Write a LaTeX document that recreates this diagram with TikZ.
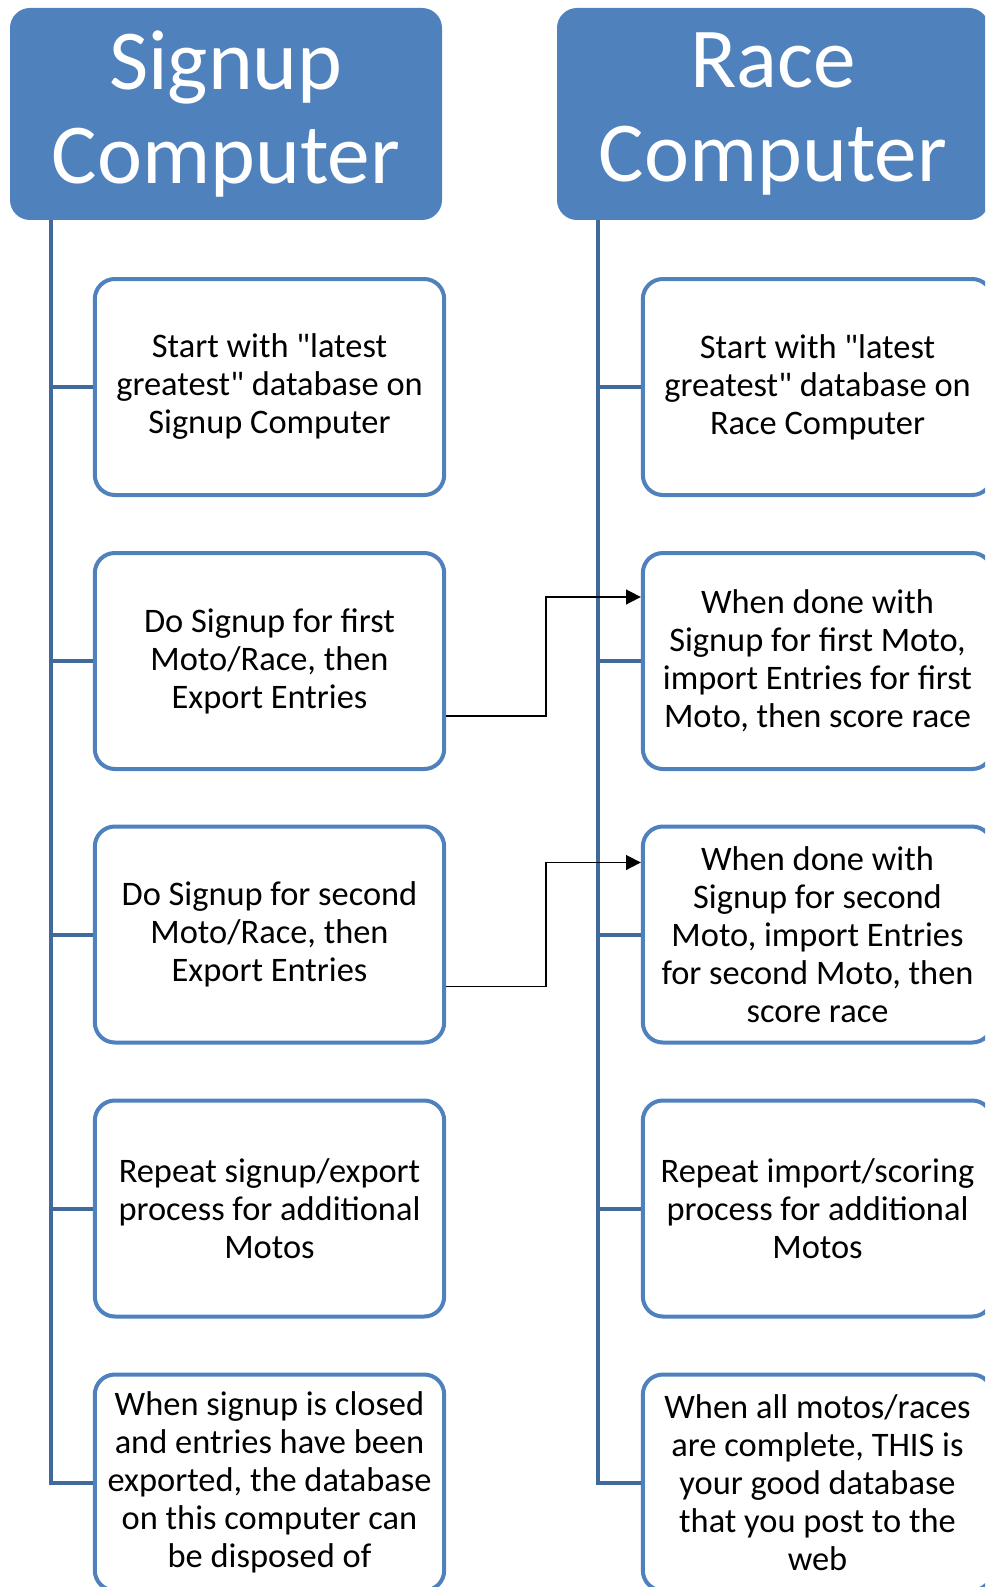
\documentclass[tikz,border=0pt]{standalone}
\usepackage{fontspec}
\setmainfont{Carlito}
\usetikzlibrary{arrows.meta}
\definecolor{hdrblue}{HTML}{4F81BD}
\definecolor{trunkblue}{HTML}{3F6A9B}
\newcommand{\dq}{\textquotedbl}

\begin{document}
\begin{tikzpicture}[x=0.75pt,y=-0.75pt,
  header/.style={rectangle,rounded corners=15pt,fill=hdrblue,text=white,
    minimum width=324pt,minimum height=159pt,align=center,
    font=\fontsize{64}{70}\selectfont},
  stepbox/.style={rectangle,rounded corners=15pt,draw=hdrblue,line width=3pt,
    fill=white,minimum width=262pt,minimum height=162pt,align=center,
    font=\fontsize{25.8}{28.5}\selectfont},
  trunk/.style={trunkblue,line width=3pt},
  flow/.style={black,line width=1.3pt,-{Triangle[length=11pt,width=11pt]}}]
\useasboundingbox (0,0) rectangle (985,1587);
\clip (0,0) rectangle (985,1587);
\fill[white] (0,0) rectangle (985,1587);
% headers
\node[header] (signup) at (226,114) {Signup\\Computer};
\node[header] (race) at (773,114) {Race\\Computer};
\coordinate (sigtop) at (51,220);
\coordinate (racetop) at (598,220);
% signup column
\node[stepbox] (s1) at (269.5,387) {Start with \dq latest\\greatest\dq{} database on\\Signup Computer};
\node[stepbox] (s2) at (269.5,661) {Do Signup for first\\Moto/Race, then\\Export Entries};
\node[stepbox] (s3) at (269.5,934.5) {Do Signup for second\\Moto/Race, then\\Export Entries};
\node[stepbox] (s4) at (269.5,1208.5) {Repeat signup/export\\process for additional\\Motos};
\node[stepbox] (s5) at (269.5,1482.5) {When signup is closed\\and entries have been\\exported, the database\\on this computer can\\be disposed of};
% race column
\node[stepbox] (r1) at (817.5,387) {Start with \dq latest\\greatest\dq{} database on\\Race Computer};
\node[stepbox] (r2) at (817.5,661) {When done with\\Signup for first Moto,\\import Entries for first\\Moto, then score race};
\node[stepbox] (r3) at (817.5,934.5) {When done with\\Signup for second\\Moto, import Entries\\for second Moto, then\\score race};
\node[stepbox] (r4) at (817.5,1208.5) {Repeat import/scoring\\process for additional\\Motos};
\node[stepbox] (r5) at (817.5,1482.5) {When all motos/races\\are complete, THIS is\\your good database\\that you post to the\\web};
% trunks
\draw[trunk] (sigtop) |- (s5.west);
\foreach \n in {s1,s2,s3,s4}
  \draw[trunk] (sigtop |- \n.west) -- (\n.west);
\draw[trunk] (racetop) |- (r5.west);
\foreach \n in {r1,r2,r3,r4}
  \draw[trunk] (racetop |- \n.west) -- (\n.west);
% exports
\draw[flow] ([yshift=-41pt]s2.east) -- ++(100,0) |- ([yshift=48pt]r2.west);
\draw[flow] ([yshift=-39pt]s3.east) -- ++(100,0) |- ([yshift=54pt]r3.west);
\end{tikzpicture}
\end{document}
